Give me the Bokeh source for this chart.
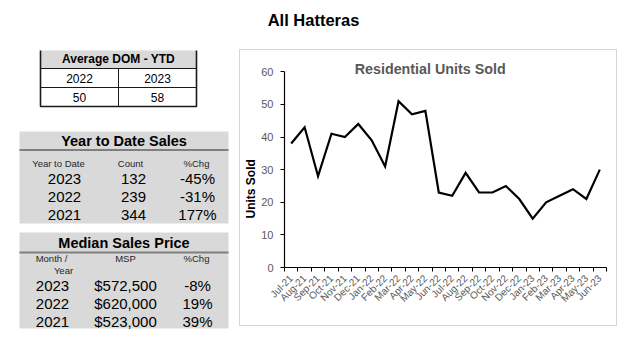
import math
from bokeh.plotting import figure
from bokeh.layouts import row, column
from bokeh.models import Range1d, FixedTicker, Title
from bokeh.core.properties import value
from bokeh.embed import file_html
from bokeh.resources import INLINE

# ---------------- data ----------------
page_title = "All Hatteras"
chart_title = "Residential Units Sold"
y_label = "Units Sold"

months = ["Jul-21", "Aug-21", "Sep-21", "Oct-21", "Nov-21", "Dec-21",
          "Jan-22", "Feb-22", "Mar-22", "Apr-22", "May-22", "Jun-22",
          "Jul-22", "Aug-22", "Sep-22", "Oct-22", "Nov-22", "Dec-22",
          "Jan-23", "Feb-23", "Mar-23", "Apr-23", "May-23", "Jun-23"]
units_sold = [38, 43, 28, 41, 40, 44, 39, 31, 51, 47, 48, 23,
              22, 29, 23, 23, 25, 21, 15, 20, 22, 24, 21, 30]
y_ticks = [0, 10, 20, 30, 40, 50, 60]

dom_title = "Average DOM - YTD"
dom_years = ["2022", "2023"]
dom_values = [50, 58]

ytd_title = "Year to Date Sales"
ytd_headers = ["Year to Date", "Count", "%Chg"]
ytd_years = ["2023", "2022", "2021"]
ytd_counts = [132, 239, 344]
ytd_chg = ["-45%", "-31%", "177%"]

msp_title = "Median Sales Price"
msp_headers = ["Month /", "Year", "MSP", "%Chg"]
msp_years = ["2023", "2022", "2021"]
msp_values = [572500, 620000, 523000]
msp_chg = ["-8%", "19%", "39%"]

FONT = "Liberation Sans"
TOP = 50  # height of the page-title strip


def txt(p, xs, ys, texts, size, bold=False, color="black", align="center"):
    p.text(x=xs, y=ys, text=texts, text_font=value(FONT),
           text_font_size=value(size),
           text_font_style="bold" if bold else "normal",
           text_color=color, text_align=align, text_baseline="middle")


def blank(w, h, y0=0):
    f = figure(width=w, height=h, output_backend="svg", toolbar_location=None,
               x_range=Range1d(0, w), y_range=Range1d(y0 + h, y0),
               x_axis_type=None, y_axis_type=None,
               min_border=0, min_border_left=0, min_border_right=0,
               min_border_top=0, min_border_bottom=0)
    f.outline_line_color = None
    f.xgrid.visible = False
    f.ygrid.visible = False
    f.background_fill_color = "white"
    f.border_fill_color = "white"
    return f


# ---------------- top: page title ----------------
top = blank(624, TOP)
txt(top, [313], [19], [page_title], "16.5px", bold=True)

# ---------------- left panel: tables (page coordinates) ----------------
left = blank(240, 347 - TOP, y0=TOP)

# table 1 : Average DOM
left.quad(left=[40], right=[196], top=[48], bottom=[68],
          fill_color="#d9d9d9", line_color=None)
left.segment(x0=[40, 40, 118], y0=[68, 87, 68], x1=[196, 196, 118], y1=[68, 87, 106],
             line_color="#1a1a1a", line_width=1)
left.quad(left=[40], right=[196], top=[48], bottom=[106],
          fill_color=None, line_color="#1a1a1a", line_width=1.6)
txt(left, [118], [58.5], [dom_title], "12px", bold=True)
txt(left, [79, 157], [77.5, 77.5], dom_years, "12px")
txt(left, [79, 157], [96.5, 96.5], [str(v) for v in dom_values], "12px")

# table 2 : Year to Date Sales
left.quad(left=[19], right=[228], top=[131], bottom=[223],
          fill_color="#d9d9d9", line_color=None)
left.segment(x0=[19], y0=[149.5], x1=[228], y1=[149.5],
             line_color="#7f7f7f", line_width=2)
txt(left, [123.5], [140], [ytd_title], "14.5px", bold=True)
txt(left, [58, 130, 196], [163, 163, 163], ytd_headers, "9.5px", color="#262626")
ry = [178, 196, 214]
txt(left, [64] * 3, ry, ytd_years, "15px")
txt(left, [133] * 3, ry, [str(v) for v in ytd_counts], "15px")
txt(left, [197] * 3, ry, ytd_chg, "15px")

# table 3 : Median Sales Price
left.quad(left=[19], right=[228], top=[232], bottom=[328],
          fill_color="#d9d9d9", line_color=None)
left.segment(x0=[19], y0=[252], x1=[228], y1=[252],
             line_color="#7f7f7f", line_width=2)
txt(left, [123.5], [242], [msp_title], "14.5px", bold=True)
txt(left, [51, 63, 125, 196], [258, 269.5, 258, 258], msp_headers, "9.5px", color="#262626")
ry = [285, 303, 321]
txt(left, [52] * 3, ry, msp_years, "15px")
txt(left, [125] * 3, ry, ["${:,}".format(v) for v in msp_values], "15px")
txt(left, [197] * 3, ry, msp_chg, "15px")

# ---------------- chart ----------------
n = len(months)
p = figure(width=376, height=275, output_backend="svg", toolbar_location=None,
           x_range=Range1d(-0.5, n - 0.5), y_range=Range1d(0, 65),
           min_border_left=41, min_border_right=10,
           min_border_top=5, min_border_bottom=58,
           styles={"box-shadow": "0 0 0 1px #d6d6d6"})
p.outline_line_color = None
p.xgrid.visible = False
p.ygrid.visible = False
p.background_fill_color = "white"
p.border_fill_color = "white"

p.line(x=list(range(n)), y=units_sold, line_color="black", line_width=2.2,
       line_join="miter")
txt(p, [10.36], [60.8], [chart_title], "14.3px", bold=True, color="#595959")

xa = p.xaxis[0]
xa.ticker = FixedTicker(ticks=list(range(n)),
                        minor_ticks=[i - 0.5 for i in range(n + 1)])
xa.major_label_overrides = {i: m for i, m in enumerate(months)}
xa.major_label_orientation = math.pi / 4
xa.major_tick_line_color = None
xa.major_tick_out = 0
xa.major_tick_in = 0
xa.minor_tick_line_color = "black"
xa.minor_tick_out = 4
xa.minor_tick_in = 0
xa.major_label_standoff = 5
xa.major_label_text_font = FONT
xa.major_label_text_font_size = "10px"
xa.major_label_text_color = "#595959"
xa.axis_line_color = "black"
xa.axis_line_width = 1.2

ya = p.yaxis[0]
ya.ticker = FixedTicker(ticks=y_ticks)
ya.bounds = (0, 60)
ya.major_tick_out = 4
ya.major_tick_in = 0
ya.major_tick_line_color = "black"
ya.minor_tick_line_color = None
ya.major_label_standoff = 7
ya.major_label_text_font = FONT
ya.major_label_text_font_size = "11px"
ya.major_label_text_color = "#595959"
ya.axis_line_color = "black"
ya.axis_line_width = 1.2

# y-axis title, placed lower than the axis centre as in the original
p.add_layout(Title(text=y_label, align="left", offset=49, standoff=2,
                   text_font=FONT, text_font_size="12px", text_font_style="bold",
                   text_color="black"), "left")

layout = column(top, row(column(left), column(p)))

open("out.html", "w").write(file_html(layout, INLINE))
